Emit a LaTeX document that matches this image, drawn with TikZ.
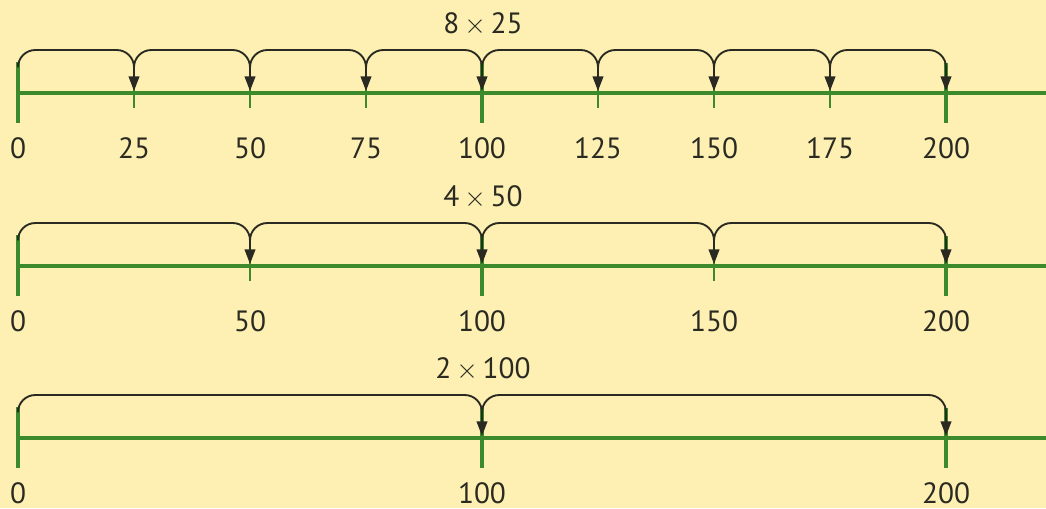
\documentclass[tikz,border=0pt]{standalone}
\usepackage{fontspec}
\setmainfont{PT Sans}
\usetikzlibrary{arrows.meta}
\definecolor{bg}{HTML}{FEF0B2}
\definecolor{axgreen}{HTML}{3C8A2C}
\definecolor{arcgray}{HTML}{2A2A22}
\tikzset{
  px/.style={x=0.75pt,y=-0.75pt},
  axisline/.style={draw=axgreen,line width=2.4pt},
  majortick/.style={draw=axgreen,line width=2.4pt},
  minortick/.style={draw=axgreen,line width=1.1pt},
  jump/.style={draw=arcgray,line width=1.4pt,rounded corners=13pt,
    -{Triangle[length=11pt,width=8pt]}},
  numlabel/.style={font=\fontsize{22}{24}\selectfont,text=arcgray,inner sep=0pt,anchor=center},
  titlelabel/.style={font=\fontsize{22}{24}\selectfont,text=arcgray,inner sep=0pt,anchor=center}
}
\begin{document}
\begin{tikzpicture}[px]
\fill[bg] (0,0) rectangle (1046,508);
\useasboundingbox (0,0) rectangle (1046,508);
\foreach \row/\ay/\st/\title in {1/93/1/{8\,$\times$\,25},2/266/2/{4\,$\times$\,50},3/438/4/{2\,$\times$\,100}}{
  \draw[axisline] (18,\ay) -- (1046,\ay);
  \node[titlelabel] (title\row) at (483,\ay-69) {\title};
  \foreach \k in {0,\st,...,8}{
    \pgfmathtruncatemacro{\val}{25*\k}
    \pgfmathsetmacro{\xx}{18+116*\k}
    \ifnum\val=0 \draw[majortick] (\xx,\ay-31) -- (\xx,\ay+30);
    \else\ifnum\val=100 \draw[majortick] (\xx,\ay-30) -- (\xx,\ay+30);
    \else\ifnum\val=200 \draw[majortick] (\xx,\ay-30) -- (\xx,\ay+30);
    \else \draw[minortick] (\xx,\ay-15) -- (\xx,\ay+15);
    \fi\fi\fi
    \node[numlabel] (lab\row-\val) at (\xx,\ay+55) {\val};
    \coordinate (s\row-\val) at (\xx,\ay-26);
    \coordinate (t\row-\val) at (\xx,\ay-43);
    \coordinate (e\row-\val) at (\xx,\ay-2);
  }
  \coordinate (s\row-0) at (18,\ay-30);
  \pgfmathtruncatemacro{\last}{8-\st}
  \foreach \k in {0,\st,...,\last}{
    \pgfmathtruncatemacro{\a}{25*\k}
    \pgfmathtruncatemacro{\b}{25*(\k+\st)}
    \draw[jump] (s\row-\a) |- (t\row-\b) -- (e\row-\b);
  }
}
\end{tikzpicture}
\end{document}
